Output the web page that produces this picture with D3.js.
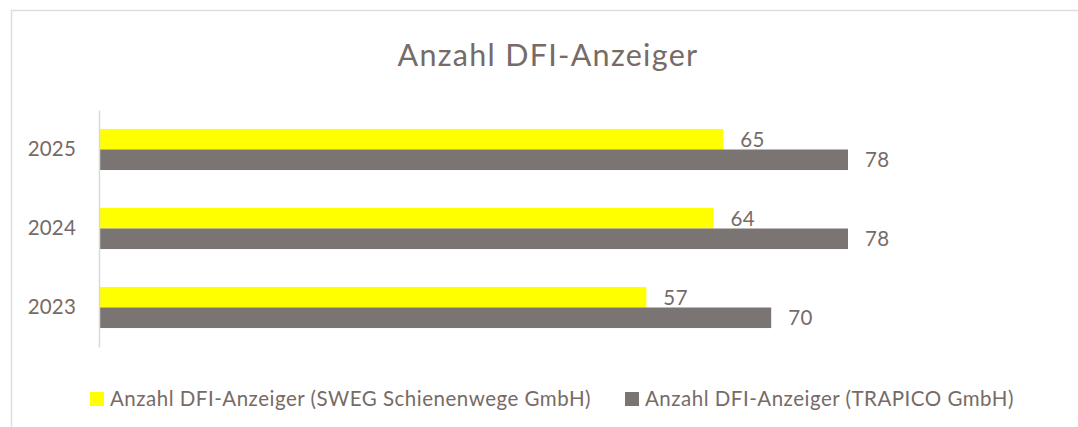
<!DOCTYPE html>
<html>
<head>
<meta charset="utf-8">
<script src="https://cdn.jsdelivr.net/npm/d3@7"></script>
<style>
  body { margin: 0; background: #fff; }
  text { font-family: Lato, "Open Sans", sans-serif; fill: #766b66; }
</style>
</head>
<body>
<svg width="1078" height="427"></svg>
<script>
var years = ["2025", "2024", "2023"];
var seriesNames = ["Anzahl DFI-Anzeiger (SWEG Schienenwege GmbH)", "Anzahl DFI-Anzeiger (TRAPICO GmbH)"];
var sweg = [65, 64, 57];
var trapico = [78, 78, 70];
var colors = ["#ffff00", "#7a7572"];

var svg = d3.select("svg");

// chart frame (only top and left edge visible in the picture)
svg.append("path")
    .attr("d", "M11.5,1078V10.5H1078")
    .attr("fill", "none")
    .attr("stroke", "#e0dddd")
    .attr("stroke-width", 1.5);

svg.append("text")
    .attr("x", 548)
    .attr("y", 66)
    .attr("text-anchor", "middle")
    .style("font-size", "30.5px")
    .style("letter-spacing", "1.3px")
    .text("Anzahl DFI-Anzeiger");

var x = d3.scaleLinear().domain([0, 78]).range([99, 848]);

var y = d3.scaleBand().domain(years).range([110, 347])
    .paddingInner(0.48).paddingOuter(0.24);

var sub = d3.scaleBand().domain([0, 1]).range([0, y.bandwidth()]);

var rows = years.map(function(yr, i) {
    return {year: yr, values: [sweg[i], trapico[i]]};
});

var group = svg.selectAll(".year").data(rows)
    .enter().append("g")
    .attr("class", "year")
    .attr("transform", function(d) { return "translate(0," + y(d.year) + ")"; });

group.selectAll("rect")
    .data(function(d) { return d.values; })
    .enter().append("rect")
    .attr("x", x(0))
    .attr("y", function(d, i) { return sub(i); })
    .attr("width", function(d) { return x(d) - x(0); })
    .attr("height", sub.bandwidth())
    .attr("fill", function(d, i) { return colors[i]; });

group.selectAll(".val")
    .data(function(d) { return d.values; })
    .enter().append("text")
    .attr("class", "val")
    .attr("x", function(d) { return x(d) + 17; })
    .attr("y", function(d, i) { return sub(i) + sub.bandwidth() / 2; })
    .attr("dy", "0.36em")
    .style("font-size", "20.5px")
    .style("letter-spacing", "0.4px")
    .text(function(d) { return d; });

var yAxis = svg.append("g")
    .attr("transform", "translate(" + x(0) + ",0)")
    .call(d3.axisLeft(y).tickSize(0).tickPadding(23));
yAxis.select(".domain").attr("stroke", "#d9d9d9").attr("stroke-width", 1.5);
yAxis.selectAll("text")
    .style("font-size", "20.5px")
    .style("letter-spacing", "0.2px")
    .style("font-family", "Lato, sans-serif")
    .attr("fill", "#766b66");

// legend
var legendX = [90, 625];
var legend = svg.selectAll(".legend").data(seriesNames)
    .enter().append("g")
    .attr("class", "legend")
    .attr("transform", function(d, i) { return "translate(" + legendX[i] + ",392)"; });

legend.append("rect")
    .attr("width", 14)
    .attr("height", 14)
    .attr("fill", function(d, i) { return colors[i]; });

legend.append("text")
    .attr("x", 20)
    .attr("y", 7)
    .attr("dy", "0.36em")
    .style("font-size", "20.5px")
    .style("letter-spacing", "0.5px")
    .text(function(d) { return d; });
</script>
</body>
</html>
